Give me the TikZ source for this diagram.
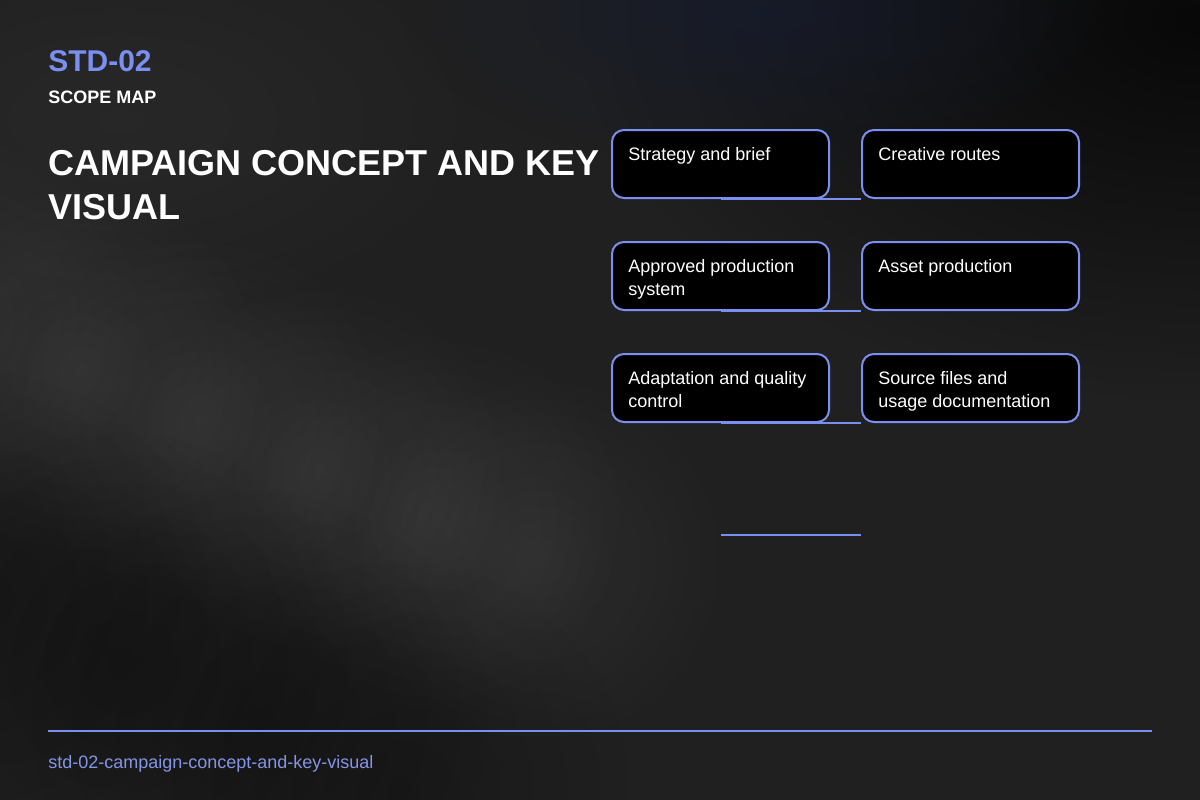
\documentclass[tikz,border=0pt]{standalone}
\usepackage{fontspec}
\setmainfont{Liberation Sans}
\usetikzlibrary{fadings,calc}
\definecolor{bgbase}{HTML}{202020}
\definecolor{accent}{HTML}{7B8FF0}
\definecolor{foottext}{HTML}{8595E6}
\definecolor{bluetint}{HTML}{161C30}
\tikzfading[name=fuzz, inner color=transparent!0, outer color=transparent!100]
\tikzset{
  box/.style={draw=accent, line width=1.5pt, fill=black, rounded corners=9pt,
    minimum width=162.75pt, minimum height=51pt, anchor=north west, inner sep=0pt},
  boxtext/.style={text=white, font=\fontsize{13.5pt}{16.9pt}\selectfont, align=left,
    anchor=north west, inner sep=0pt},
  link/.style={draw=accent, line width=1.5pt},
  glow/.style={path fading=fuzz, fit fading=true}
}
\begin{document}
\begin{tikzpicture}[x=0.75pt,y=-0.75pt]
\useasboundingbox (0,0) rectangle (1200,800);
% background
\fill[bgbase] (0,0) rectangle (1200,800);
\begin{scope}
\clip (0,0) rectangle (1200,800);
\fill[black, opacity=0.75, glow] (1200,20) ellipse [x radius=620, y radius=380];
\fill[bluetint, opacity=0.7, glow] (760,10) ellipse [x radius=360, y radius=160];
\foreach \cx/\cy in {-40/320, 80/370, 200/420, 320/470, 440/520, 540/560}
  \fill[white, opacity=0.05, glow] (\cx,\cy) circle [radius=200];
\foreach \cx/\cy in {-20/600, 120/660, 260/720, 400/790}
  \fill[black, opacity=0.22, glow] (\cx,\cy) circle [radius=230];
\fill[white, opacity=0.035, glow] (120,120) ellipse [x radius=400, y radius=220];
\end{scope}
% header
\node[anchor=north west, inner sep=0pt, text=accent, font=\fontsize{22.5pt}{26pt}\selectfont\bfseries] (code) at (48,50.5) {STD-02};
\node[anchor=north west, inner sep=0pt, text=white, font=\fontsize{13.5pt}{16pt}\selectfont\bfseries] (kind) at (48,91) {SCOPE MAP};
\node[anchor=north west, inner sep=0pt, text=white, align=left, font=\fontsize{27pt}{33pt}\selectfont\bfseries] (title) at (48,150) {CAMPAIGN CONCEPT AND KEY\\VISUAL};
% boxes
\node[box] (b1) at (611,129) {};
\node[box] (b2) at (861,129) {};
\node[box] (b3) at (611,241) {};
\node[box] (b4) at (861,241) {};
\node[box] (b5) at (611,353) {};
\node[box] (b6) at (861,353) {};
\node[boxtext] (t1) at (628,147.5) {Strategy and brief};
\node[boxtext] (t2) at (878,147.5) {Creative routes};
\node[boxtext] (t3) at (628,259.5) {Approved production\\system};
\node[boxtext] (t4) at (878,259.5) {Asset production};
\node[boxtext] (t5) at (628,371.5) {Adaptation and quality\\control};
\node[boxtext] (t6) at (878,371.5) {Source files and\\usage documentation};
% connectors
\draw[link] (b1.south) -- (b2.south west);
\draw[link] (b3.south) -- (b4.south west);
\draw[link] (b5.south) -- (b6.south west);
\coordinate (c7a) at ($(b5.south)+(0,112)$);
\coordinate (c7b) at ($(b6.south west)+(0,112)$);
\draw[link] (c7a) -- (c7b);
% footer
\coordinate (fl) at (48,731);
\coordinate (fr) at (1152,731);
\draw[link] (fl) -- (fr);
\node[anchor=north west, inner sep=0pt, text=foottext, font=\fontsize{13.5pt}{16pt}\selectfont] (foot) at (48,755) {std-02-campaign-concept-and-key-visual};
\end{tikzpicture}
\end{document}
